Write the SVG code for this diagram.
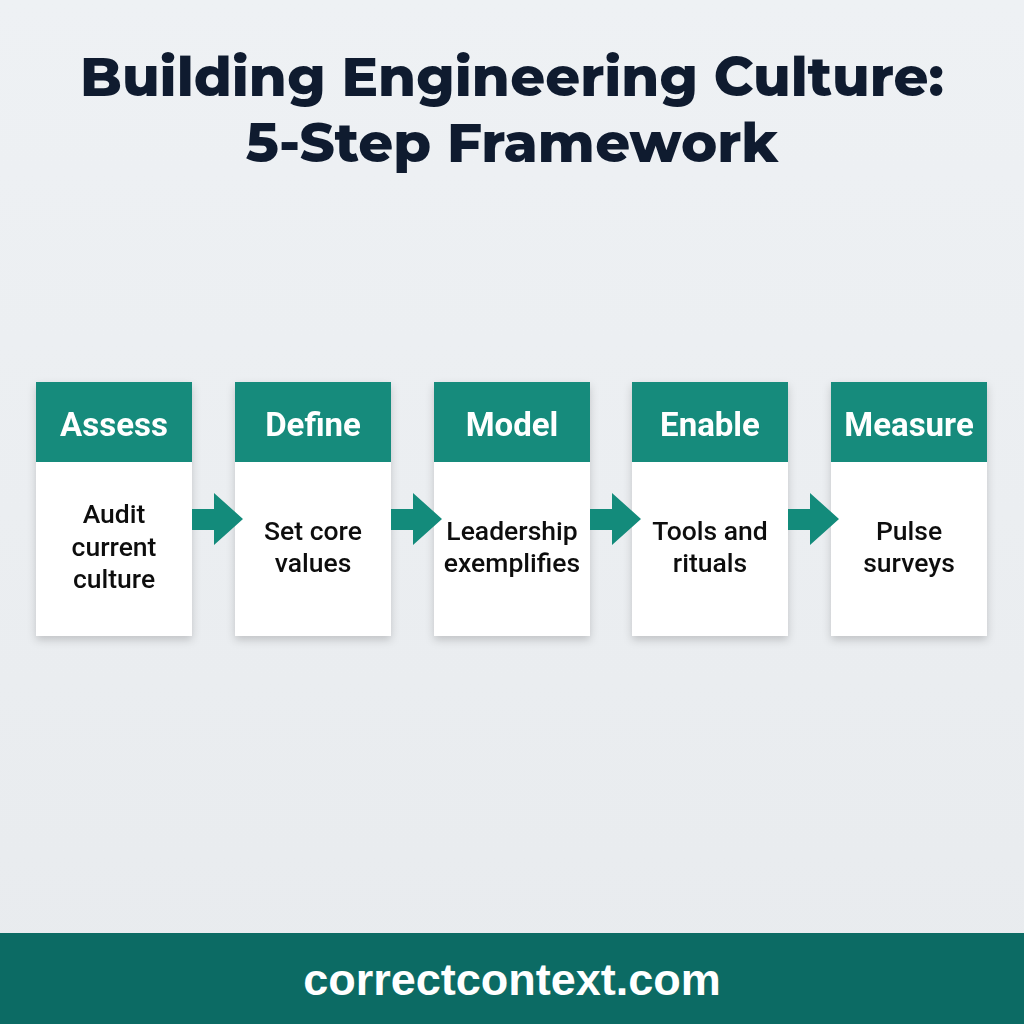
<svg xmlns="http://www.w3.org/2000/svg" width="1024" height="1024" viewBox="0 0 1024 1024">
<defs>
<filter id="sh" x="-20%" y="-20%" width="140%" height="140%">
<feDropShadow dx="0" dy="4" stdDeviation="4" flood-color="#000" flood-opacity="0.18"/>
</filter>
<linearGradient id="bg" x1="0" y1="0" x2="0" y2="1">
<stop offset="0" stop-color="#eef1f4"/>
<stop offset="1" stop-color="#e8ebee"/>
</linearGradient>
</defs>
<style>
.title{font-family:Montserrat,"Open Sans","Liberation Sans",sans-serif;font-weight:800;font-size:54.5px;fill:#0f1b2f;text-anchor:middle}
.card{fill:#ffffff}
.hdr{fill:#138b7b}
.ht{font-family:Roboto,"Liberation Sans",sans-serif;font-weight:700;font-size:33px;fill:#ffffff;text-anchor:middle}
.bt{font-family:Roboto,"Liberation Sans",sans-serif;font-weight:500;font-size:26.5px;fill:#111111;text-anchor:middle}
.arr{fill:#138b7b}
.ft{font-family:"Liberation Sans",Arial,sans-serif;font-weight:700;font-size:45px;fill:#ffffff;text-anchor:middle}
</style>
<rect width="1024" height="1024" fill="url(#bg)"/>
<text class="title" x="512" y="96">Building Engineering Culture:</text>
<text class="title" x="512" y="162">5-Step Framework</text>

<g id="node-assess" filter="url(#sh)">
<rect class="card" x="36" y="382" width="156" height="254"/>
<rect class="hdr" x="36" y="382" width="156" height="80"/>
<text class="ht" x="114" y="436">Assess</text>
<text class="bt" x="114" y="523">Audit</text>
<text class="bt" x="114" y="556">current</text>
<text class="bt" x="114" y="588">culture</text>
</g>
<g id="node-define" filter="url(#sh)">
<rect class="card" x="235" y="382" width="156" height="254"/>
<rect class="hdr" x="235" y="382" width="156" height="80"/>
<text class="ht" x="313" y="436">Define</text>
<text class="bt" x="313" y="540">Set core</text>
<text class="bt" x="313" y="572">values</text>
</g>
<g id="node-model" filter="url(#sh)">
<rect class="card" x="434" y="382" width="156" height="254"/>
<rect class="hdr" x="434" y="382" width="156" height="80"/>
<text class="ht" x="512" y="436">Model</text>
<text class="bt" x="512" y="540">Leadership</text>
<text class="bt" x="512" y="572">exemplifies</text>
</g>
<g id="node-enable" filter="url(#sh)">
<rect class="card" x="632" y="382" width="156" height="254"/>
<rect class="hdr" x="632" y="382" width="156" height="80"/>
<text class="ht" x="710" y="436">Enable</text>
<text class="bt" x="710" y="540">Tools and</text>
<text class="bt" x="710" y="572">rituals</text>
</g>
<g id="node-measure" filter="url(#sh)">
<rect class="card" x="831" y="382" width="156" height="254"/>
<rect class="hdr" x="831" y="382" width="156" height="80"/>
<text class="ht" x="909" y="436">Measure</text>
<text class="bt" x="909" y="540">Pulse</text>
<text class="bt" x="909" y="572">surveys</text>
</g>

<g id="connectors">
<path class="arr" d="M192 509 H214 V493 L243 519 L214 545 V530 H192 Z"/>
<path class="arr" d="M391 509 H413 V493 L442 519 L413 545 V530 H391 Z"/>
<path class="arr" d="M590 509 H612 V493 L641 519 L612 545 V530 H590 Z"/>
<path class="arr" d="M788 509 H810 V493 L839 519 L810 545 V530 H788 Z"/>
</g>

<g id="footer">
<rect x="0" y="933" width="1024" height="91" fill="#0c6b64"/>
<text class="ft" x="512" y="995">correctcontext.com</text>
</g>
</svg>
